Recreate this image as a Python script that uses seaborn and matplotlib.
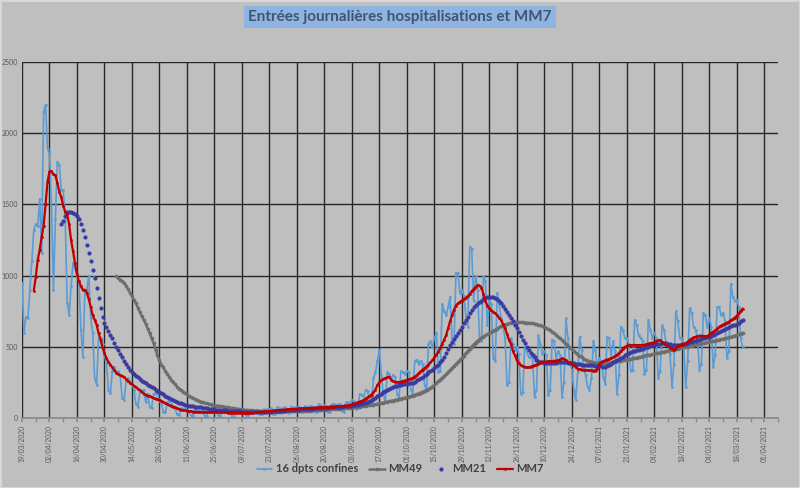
import pandas as pd
import matplotlib
matplotlib.use("Agg")
import matplotlib.pyplot as plt
import matplotlib.dates as mdates
from matplotlib.patches import Rectangle
import seaborn as sns

# 1. Data (daily values, last day = 21/03/2021)
END_DATE = "2021-03-21"

# 16 dpts confines - daily admissions, 19/03/2020 -> 21/03/2021 (one row = one week, Thu..Wed)
daily = [
    950, 600, 710, 700, 900, 1100, 1320,
    1360, 1345, 1540, 1160, 2150, 2200, 1890,
    1860, 1510, 900, 1400, 1800, 1780, 1600,
    1600, 1400, 810, 725, 930, 1090, 1050,
    1000, 960, 620, 430, 880, 900, 1000,
    700, 600, 280, 234, 560, 560, 520,
    440, 380, 200, 175, 330, 360, 320,
    330, 300, 140, 130, 260, 280, 260,
    240, 200, 100, 80, 180, 190, 200,
    110, 170, 80, 70, 170, 175, 170,
    120, 100, 45, 40, 110, 120, 100,
    80, 65, 25, 20, 70, 60, 60,
    55, 45, 20, 15, 60, 50, 50,
    50, 45, 15, 15, 55, 55, 45,
    45, 40, 20, 15, 55, 55, 50,
    50, 45, 15, 10, 50, 50, 45,
    50, 45, 20, 20, 50, 40, 45,
    55, 55, 25, 25, 60, 55, 60,
    60, 70, 30, 30, 75, 70, 65,
    70, 75, 40, 35, 80, 75, 70,
    80, 75, 45, 40, 85, 80, 75,
    85, 80, 45, 40, 95, 90, 85,
    90, 85, 45, 45, 100, 95, 90,
    95, 95, 50, 45, 110, 110, 100,
    130, 120, 60, 70, 170, 160, 150,
    200, 190, 120, 110, 280, 320, 400,
    480, 300, 170, 110, 320, 310, 280,
    300, 290, 170, 140, 330, 320, 310,
    330, 320, 200, 170, 400, 410, 380,
    400, 380, 230, 200, 520, 540, 500,
    560, 600, 320, 330, 800, 750, 720,
    780, 850, 560, 520, 1020, 1020, 880,
    900, 860, 720, 640, 1200, 1190, 820,
    1000, 900, 560, 540, 1000, 960, 650,
    820, 800, 420, 400, 880, 800, 700,
    640, 560, 230, 250, 560, 520, 480,
    500, 450, 170, 180, 500, 470, 430,
    430, 420, 150, 200, 580, 520, 450,
    470, 440, 160, 200, 550, 540, 420,
    470, 440, 150, 250, 700, 560, 380,
    340, 200, 130, 320, 570, 480, 350,
    300, 220, 200, 280, 540, 480, 330,
    420, 400, 290, 240, 570, 560, 420,
    540, 470, 170, 300, 640, 620, 560,
    560, 520, 330, 340, 690, 650, 580,
    560, 540, 310, 340, 690, 620, 560,
    600, 560, 280, 330, 650, 620, 520,
    520, 450, 220, 380, 750, 680, 560,
    560, 500, 220, 400, 770, 740, 640,
    620, 560, 340, 380, 740, 720, 640,
    700, 640, 360, 440, 780, 780, 720,
    740, 680, 420, 470, 940, 850, 820,
    830, 780, 560, 500,
]

# MM49 - from 06/05/2020
mm49 = [
    995, 985, 972, 960, 948, 930, 905, 880, 855, 830,
    805, 775, 745, 715, 690, 660, 628, 595, 560, 525,
    480, 440, 405, 375, 355, 330, 310, 290, 270, 252,
    236, 220, 207, 195, 185, 175, 166, 155, 147, 140,
    132, 126, 120, 115, 110, 106, 103, 99, 96, 93,
    90, 87, 85, 83, 81, 79, 77, 74, 72, 70,
    68, 66, 64, 62, 60, 58, 57, 55, 54, 53,
    52, 51, 50, 49, 48, 47, 47, 46, 46, 45,
    45, 45, 45, 45, 45, 46, 46, 46, 47, 47,
    48, 48, 49, 49, 50, 50, 51, 51, 52, 52,
    53, 53, 54, 55, 56, 57, 58, 59, 60, 61,
    62, 63, 64, 65, 66, 67, 68, 69, 70, 71,
    72, 74, 76, 78, 80, 82, 84, 86, 88, 90,
    92, 94, 96, 99, 102, 105, 108, 111, 114, 117,
    120, 123, 126, 129, 133, 136, 139, 142, 146, 150,
    154, 158, 162, 167, 172, 178, 184, 190, 196, 203,
    210, 220, 232, 245, 258, 270, 282, 294, 308, 322,
    336, 350, 364, 378, 392, 407, 422, 438, 454, 470,
    486, 502, 516, 530, 542, 553, 563, 572, 580, 588,
    596, 604, 612, 620, 628, 636, 643, 650, 656, 661,
    665, 668, 670, 671, 672, 672, 672, 671, 670, 669,
    668, 666, 664, 661, 658, 654, 650, 645, 640, 633,
    625, 616, 606, 595, 584, 572, 560, 547, 534, 521,
    508, 495, 482, 470, 458, 446, 435, 425, 416, 409,
    403, 398, 394, 391, 388, 386, 385, 384, 384, 385,
    386, 388, 390, 392, 395, 397, 400, 402, 405, 407,
    410, 412, 415, 418, 421, 424, 427, 430, 433, 436,
    439, 442, 445, 448, 451, 454, 457, 460, 463, 466,
    469, 472, 475, 478, 481, 484, 487, 490, 493, 496,
    499, 502, 505, 508, 511, 514, 517, 520, 523, 526,
    529, 532, 535, 538, 541, 544, 547, 550, 553, 556,
    559, 562, 566, 570, 574, 578, 583, 588, 593, 599,
]

# MM21 - from 08/04/2020
mm21 = [
    1360, 1385, 1420, 1445, 1450, 1445, 1438, 1430, 1420, 1400,
    1365, 1320, 1270, 1215, 1160, 1100, 1040, 980, 910, 840,
    770, 710, 670, 640, 610, 585, 560, 530, 500, 475,
    450, 425, 400, 380, 360, 340, 325, 310, 298, 285,
    273, 262, 252, 243, 235, 227, 219, 210, 200, 192,
    185, 176, 168, 158, 150, 142, 134, 127, 120, 114,
    108, 103, 98, 94, 90, 87, 85, 82, 80, 78,
    76, 74, 72, 70, 68, 66, 64, 62, 60, 58,
    57, 56, 55, 54, 53, 52, 51, 50, 49, 48,
    47, 46, 45, 44, 43, 42, 42, 41, 41, 41,
    41, 41, 42, 42, 43, 43, 44, 45, 46, 47,
    48, 49, 50, 51, 52, 53, 54, 55, 56, 57,
    58, 59, 60, 61, 62, 63, 64, 65, 66, 67,
    68, 69, 70, 70, 71, 72, 73, 74, 75, 76,
    77, 78, 79, 80, 81, 82, 83, 84, 86, 88,
    90, 93, 96, 100, 104, 108, 113, 118, 124, 132,
    142, 155, 165, 172, 180, 188, 196, 204, 212, 218,
    222, 226, 230, 233, 236, 238, 240, 243, 246, 249,
    256, 264, 272, 280, 290, 300, 310, 320, 330, 340,
    352, 365, 375, 390, 410, 430, 455, 485, 510, 535,
    555, 575, 595, 615, 640, 665, 690, 712, 735, 760,
    780, 795, 805, 815, 825, 835, 842, 848, 851, 851,
    848, 842, 833, 820, 805, 785, 765, 745, 720, 700,
    680, 655, 630, 605, 578, 550, 525, 500, 478, 458,
    442, 425, 410, 400, 393, 390, 388, 388, 388, 388,
    388, 388, 389, 390, 392, 394, 393, 391, 389, 387,
    385, 383, 381, 378, 376, 374, 372, 372, 372, 372,
    371, 370, 368, 366, 364, 362, 361, 360, 363, 370,
    380, 390, 398, 406, 415, 422, 430, 440, 448, 455,
    462, 468, 473, 477, 480, 484, 488, 492, 497, 502,
    507, 512, 516, 519, 521, 523, 524, 524, 524, 522,
    519, 516, 514, 513, 514, 516, 518, 520, 523, 527,
    531, 535, 539, 542, 546, 550, 555, 559, 563, 567,
    572, 578, 584, 590, 596, 602, 609, 616, 623, 630,
    637, 643, 650, 656, 663, 670, 678, 687,
]

# MM7 - from 25/03/2020
mm7 = [
    895, 990, 1110, 1180, 1270, 1350, 1500, 1660, 1730, 1735,
    1710, 1705, 1650, 1590, 1550, 1490, 1450, 1430, 1360, 1250,
    1170, 1085, 1010, 960, 925, 900, 900, 880, 835, 780,
    720, 690, 655, 595, 550, 495, 455, 420, 395, 375,
    355, 335, 318, 308, 300, 295, 288, 272, 258, 245,
    236, 228, 215, 205, 195, 182, 172, 165, 158, 152,
    146, 140, 136, 132, 128, 120, 112, 104, 97, 90,
    85, 80, 74, 68, 63, 59, 56, 53, 51, 49,
    47, 45, 44, 43, 42, 42, 41, 41, 40, 40,
    41, 42, 43, 43, 42, 41, 40, 40, 39, 38,
    38, 38, 37, 37, 38, 38, 38, 37, 37, 37,
    38, 38, 39, 40, 41, 43, 44, 45, 46, 47,
    49, 50, 52, 53, 54, 55, 57, 58, 59, 60,
    61, 62, 63, 64, 66, 67, 68, 68, 69, 69,
    70, 71, 72, 72, 73, 74, 74, 75, 76, 77,
    78, 79, 80, 80, 81, 82, 83, 84, 85, 86,
    88, 90, 95, 100, 105, 110, 115, 120, 126, 135,
    145, 155, 165, 180, 200, 232, 250, 265, 275, 280,
    285, 290, 270, 258, 255, 252, 252, 255, 260, 263,
    268, 272, 276, 282, 290, 300, 315, 328, 340, 350,
    362, 375, 390, 405, 425, 445, 465, 490, 520, 550,
    583, 630, 680, 720, 760, 790, 805, 815, 825, 835,
    842, 855, 870, 890, 905, 920, 932, 930, 915, 870,
    820, 790, 770, 755, 745, 735, 720, 705, 685, 660,
    630, 590, 550, 520, 470, 440, 405, 385, 370, 362,
    358, 356, 355, 360, 365, 370, 375, 380, 388, 395,
    395, 396, 398, 400, 400, 402, 402, 405, 410, 418,
    415, 405, 395, 390, 380, 370, 355, 345, 341, 340,
    338, 337, 336, 335, 334, 333, 332, 345, 380, 390,
    398, 405, 410, 415, 418, 425, 435, 445, 455, 470,
    485, 500, 505, 510, 512, 512, 513, 512, 512, 512,
    513, 514, 518, 522, 526, 528, 532, 538, 545, 547,
    535, 522, 512, 505, 495, 485, 478, 490, 505, 512,
    516, 520, 524, 535, 548, 558, 566, 570, 574, 578,
    578, 576, 575, 575, 585, 598, 605, 615, 628, 640,
    648, 656, 662, 668, 676, 687, 695, 705, 718, 734,
    752, 769,
]

tick_dates = pd.date_range("2020-03-19", "2021-04-01", freq="14D")
minor_dates = pd.date_range("2020-03-19", "2021-04-08", freq="7D")
y_ticks = [0, 500, 1000, 1500, 2000, 2500]


def to_frame(values):
    dates = pd.date_range(end=END_DATE, periods=len(values), freq="D")
    return pd.DataFrame({"date": dates, "value": values})


# 2. Style
BG = "#bfbfbf"
sns.set_theme(style="white")
plt.rcParams["font.family"] = ["Lato", "DejaVu Sans"]

fig = plt.figure(figsize=(8, 4.88), dpi=100, facecolor=BG)
ax = fig.add_axes([0.0275, 0.1434, 0.945, 0.7296])
ax.set_facecolor(BG)

# 3. Series
sns.lineplot(data=to_frame(daily), x="date", y="value", ax=ax, color="#5b9bd5",
             lw=1.2, marker="o", markersize=2, markeredgewidth=0,
             label="16 dpts confines", zorder=2)
sns.lineplot(data=to_frame(mm49), x="date", y="value", ax=ax, color="#6e6e6e",
             lw=1.8, marker="o", markersize=2.6, markeredgewidth=0,
             label="MM49", zorder=3)
sns.lineplot(data=to_frame(mm21), x="date", y="value", ax=ax, color="#9dc3e6",
             lw=0.8, marker="o", markersize=3, markerfacecolor="#3a3aa0",
             markeredgecolor="#3a3aa0", markeredgewidth=0, label="MM21", zorder=4)
sns.lineplot(data=to_frame(mm7), x="date", y="value", ax=ax, color="#c00000",
             lw=1.6, marker="o", markersize=2, markeredgewidth=0,
             label="MM7", zorder=5)

# 4. Axes, grid, ticks
ax.set_xlim(pd.Timestamp("2020-03-19"), pd.Timestamp("2021-04-08"))
ax.set_ylim(0, 2500)
ax.set_xticks(tick_dates)
ax.set_xticks(minor_dates, minor=True)
ax.xaxis.set_major_formatter(mdates.DateFormatter("%d/%m/%Y"))
ax.set_yticks(y_ticks)
ax.set_xlabel("")
ax.set_ylabel("")
ax.grid(True, which="major", color="#262626", lw=1)
ax.set_axisbelow(True)
for side in ["top", "right", "left"]:
    ax.spines[side].set_visible(False)
ax.spines["bottom"].set_color("#8c8c8c")
ax.tick_params(axis="x", which="both", labelsize=4.8, labelcolor="#595959",
               rotation=90, length=3, color="#8c8c8c", bottom=True, pad=2)
ax.tick_params(axis="y", labelsize=5, labelcolor="#595959", length=0, pad=3)

# 5. Title and legend
fig.text(0.5, 1 - 17 / 488, "Entrées journalières hospitalisations et MM7",
         ha="center", va="center", fontsize=11, fontweight="bold", color="#44546a",
         bbox=dict(boxstyle="square,pad=0.25", fc="#8db4e2", ec="none"))
ax.legend(loc="center", bbox_to_anchor=(0.5, 19 / 488), bbox_transform=fig.transFigure,
          ncol=4, frameon=False, handlelength=1.4, columnspacing=1.0,
          handletextpad=0.3, labelcolor="#404040",
          prop={"size": 8, "weight": "bold"})

fig.patches.append(Rectangle((0, 0), 1, 1, transform=fig.transFigure, fill=False,
                             ec="#d9d9d9", lw=2))

fig.savefig("out.png", dpi=100, facecolor=BG)
